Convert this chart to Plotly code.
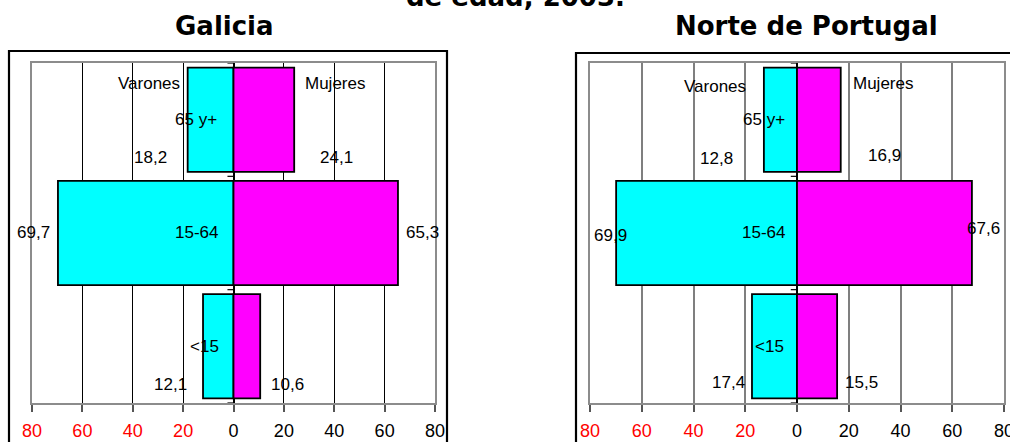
import plotly.graph_objects as go

# Population structure by broad age group and sex (%)
categories = ["<15", "15-64", "65 y+"]
galicia_varones = [12.1, 69.7, 18.2]
galicia_mujeres = [10.6, 65.3, 24.1]
norte_varones = [17.4, 69.9, 12.8]
norte_mujeres = [15.5, 67.6, 16.9]

tick_values = [-80, -60, -40, -20, 0, 20, 40, 60, 80]

W, H = 1010, 442
CYAN = "#00FFFF"
MAGENTA = "#FF00FF"
LABEL_FONT = dict(family="Liberation Sans, Arial, sans-serif", size=17, color="black")
TITLE_FONT = dict(family="DejaVu Sans, Verdana, sans-serif", size=26, color="black")


def px_x(p):
    return p / W


def px_y(p):
    return 1 - p / H


def fmt(v):
    return f"{v:.1f}".replace(".", ",")


def tick_text(v):
    if v < 0:
        return f'<span style="color:#FF0000">{abs(v)}</span>'
    return str(v)


fig = go.Figure()

panels = [
    ("x", "y", galicia_varones, galicia_mujeres),
    ("x2", "y2", norte_varones, norte_mujeres),
]
for xa, ya, men, women in panels:
    fig.add_trace(go.Bar(
        y=categories, x=[-v for v in men], orientation="h",
        marker=dict(color=CYAN, line=dict(color="black", width=1.8)),
        xaxis=xa, yaxis=ya, showlegend=False, hoverinfo="skip",
    ))
    fig.add_trace(go.Bar(
        y=categories, x=women, orientation="h",
        marker=dict(color=MAGENTA, line=dict(color="black", width=1.8)),
        xaxis=xa, yaxis=ya, showlegend=False, hoverinfo="skip",
    ))

plot_top, plot_bottom = 63, 403
xaxis_common = dict(
    range=[-80, 80], tickvals=tick_values, ticktext=[tick_text(v) for v in tick_values],
    ticks="outside", ticklen=7, tickwidth=1.5, tickcolor="#555555",
    showline=True, linecolor="#8c8c8c", linewidth=2, mirror=True,
    showgrid=True, zeroline=True, zerolinecolor="black", zerolinewidth=1.5,
    tickfont=dict(family="Liberation Sans, Arial, sans-serif", size=18, color="black"),
    ticklabelstandoff=3, ticklabeloverflow="allow", automargin=False, fixedrange=True,
)
yaxis_common = dict(
    categoryorder="array", categoryarray=categories, range=[-0.5, 2.5],
    showticklabels=False, ticks="", showgrid=False, zeroline=False,
    showline=True, linecolor="#8c8c8c", linewidth=2, mirror=True,
    domain=[px_y(plot_bottom), px_y(plot_top)], automargin=False, fixedrange=True,
)

fig.update_layout(
    width=W, height=H,
    margin=dict(l=0, r=0, t=0, b=0, autoexpand=False),
    paper_bgcolor="white", plot_bgcolor="white",
    barmode="relative", bargap=0.08,
    xaxis=dict(domain=[px_x(32), px_x(435)], anchor="y", gridcolor="black", gridwidth=1, **xaxis_common),
    yaxis=dict(anchor="x", **yaxis_common),
    xaxis2=dict(domain=[px_x(590), px_x(1004)], anchor="y2", gridcolor="#7f7f7f", gridwidth=1.5, **xaxis_common),
    yaxis2=dict(anchor="x2", **yaxis_common),
)

# Label placements (axis units) for each panel
label_layout = {
    "": dict(
        varones=(-33.5, 2.32), mujeres=(40.3, 2.32),
        cats=[(-11.5, 0.0), (-14.5, 1.0), (-14.9, 2.0)],
        men_vals=[(-25.0, -0.34), (-79.6, 1.0), (-33.0, 1.67)],
        women_vals=[(21.4, -0.34), (75.2, 1.0), (41.0, 1.67)],
    ),
    "2": dict(
        varones=(-31.7, 2.29), mujeres=(33.2, 2.32),
        cats=[(-10.8, 0.0), (-13.1, 1.0), (-12.8, 2.0)],
        men_vals=[(-26.3, -0.32), (-71.9, 0.98), (-31.3, 1.66)],
        women_vals=[(25.1, -0.32), (71.9, 1.04), (34.0, 1.68)],
    ),
}
data_by_panel = {"": (galicia_varones, galicia_mujeres), "2": (norte_varones, norte_mujeres)}

for suffix, pos in label_layout.items():
    xr, yr = "x" + suffix, "y" + suffix
    men, women = data_by_panel[suffix]

    def add(text, xy):
        fig.add_annotation(x=xy[0], y=xy[1], xref=xr, yref=yr, text=text,
                           showarrow=False, font=LABEL_FONT,
                           xanchor="center", yanchor="middle")

    add("Varones", pos["varones"])
    add("Mujeres", pos["mujeres"])
    for cat, xy in zip(categories, pos["cats"]):
        add(cat.replace("<", "&lt;"), xy)
    for v, xy in zip(men, pos["men_vals"]):
        add(fmt(v), xy)
    for v, xy in zip(women, pos["women_vals"]):
        add(fmt(v), xy)

    # small tick marks on the central axis at category boundaries
    for b in [-0.5, 0.5, 1.5, 2.5]:
        fig.add_shape(type="line", xref=xr, yref=yr, x0=-2.4, x1=0, y0=b, y1=b,
                      line=dict(color="black", width=1.2))

# outer chart frames
fig.add_shape(type="rect", xref="paper", yref="paper",
              x0=px_x(9), x1=px_x(447), y0=px_y(460), y1=px_y(51),
              line=dict(color="black", width=2.2), fillcolor="rgba(0,0,0,0)", layer="below")
fig.add_shape(type="rect", xref="paper", yref="paper",
              x0=px_x(576), x1=px_x(1030), y0=px_y(460), y1=px_y(53),
              line=dict(color="black", width=2.2), fillcolor="rgba(0,0,0,0)", layer="below")

# titles
fig.add_annotation(x=px_x(515), y=px_y(-3), xref="paper", yref="paper",
                   text="<b>de edad, 2003.</b>", showarrow=False, font=TITLE_FONT,
                   xanchor="center", yanchor="middle")
fig.add_annotation(x=px_x(224.5), y=px_y(26), xref="paper", yref="paper",
                   text="<b>Galicia</b>", showarrow=False, font=TITLE_FONT,
                   xanchor="center", yanchor="middle")
fig.add_annotation(x=px_x(806.5), y=px_y(26), xref="paper", yref="paper",
                   text="<b>Norte de Portugal</b>", showarrow=False, font=TITLE_FONT,
                   xanchor="center", yanchor="middle")

fig.write_html("out.html")
